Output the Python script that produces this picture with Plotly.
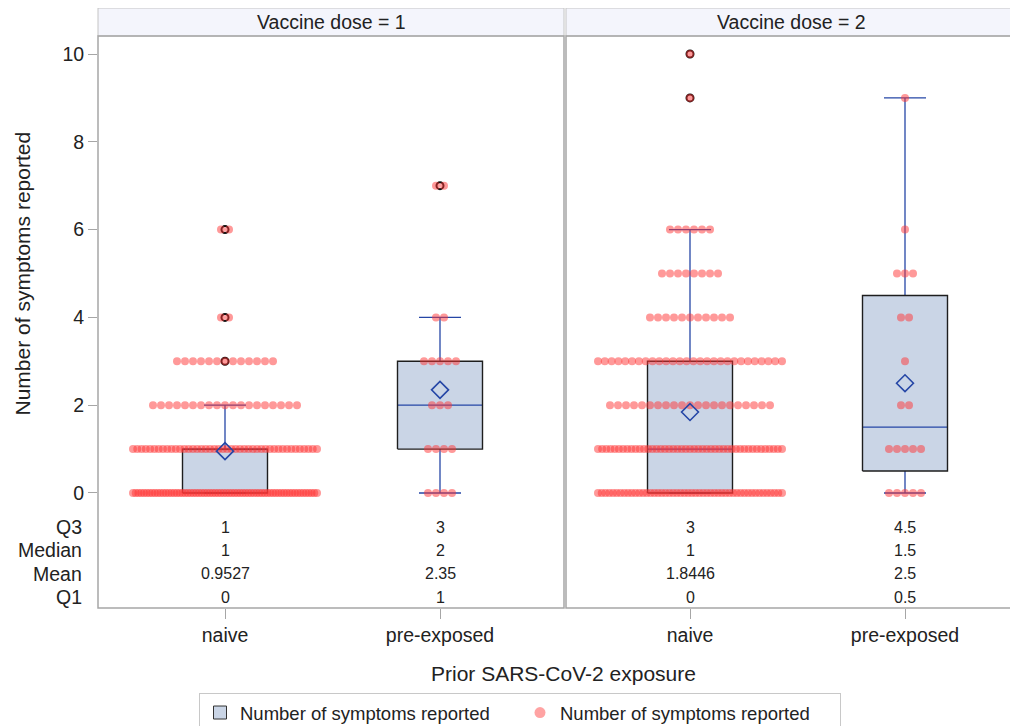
import plotly.graph_objects as go

# ---------------- data ----------------
categories = ["naive", "pre-exposed"]
dose_labels = ["Vaccine dose = 1", "Vaccine dose = 2"]
symptom_values = [0, 1, 2, 3, 4, 5, 6, 7, 8, 9, 10]

# number of participants reporting each symptom count (dot rows)
counts_d1_naive = [68, 44, 19, 13, 2, 0, 2, 0, 0, 0, 0]
counts_d1_pre = [4, 4, 3, 5, 2, 0, 0, 2, 0, 0, 0]
counts_d2_naive = [50, 45, 21, 28, 11, 8, 6, 0, 0, 1, 1]
counts_d2_pre = [5, 5, 2, 1, 2, 3, 1, 0, 0, 1, 0]

# box statistics in order: d1 naive, d1 pre-exposed, d2 naive, d2 pre-exposed
q3_vals = [1, 3, 3, 4.5]
median_vals = [1, 2, 1, 1.5]
mean_vals = [0.9527, 2.35, 1.8446, 2.5]
q1_vals = [0, 1, 0, 0.5]
whisker_low = [0, 0, 0, 0]
whisker_high = [2, 4, 6, 9]

stat_row_labels = ["Q3", "Median", "Mean", "Q1"]
y_ticks = [0, 2, 4, 6, 8, 10]

# ---------------- styling / layout constants ----------------
# (page body has an 8px margin, so the figure is 8px smaller each way)
W, H = 1010, 718
ML, MR, MT, MB = 90, 2, 28, 118
PLOT_H = H - MT - MB
PX_PER_UNIT = 215.0
BOX_HW = 42.5 / PX_PER_UNIT
CAP_HW = 21.0 / PX_PER_UNIT
DOT_SPACING_PX = 8.0
DOT_MAX_SPAN_PX = 184.0
Y_RANGE = [-2.62, 10.41]
STAT_Y = [-0.775, -1.30, -1.845, -2.37]

BOX_FILL = "#CAD5E6"
BOX_LINE = "#1E1E1E"
BLUE = "#2546A6"
DOT = "rgba(255,51,51,0.5)"
FRAME = "#A6A6A6"
TEXT = "#222222"
FONT = "Liberation Sans, Arial, sans-serif"

group_counts = [counts_d1_naive, counts_d1_pre, counts_d2_naive, counts_d2_pre]
group_panel = [0, 0, 1, 1]
group_cat = [0, 1, 0, 1]


def offsets(n):
    if n <= 1:
        return [0.0] * n
    span = min((n - 1) * DOT_SPACING_PX, DOT_MAX_SPAN_PX)
    step = span / (n - 1)
    return [(i - (n - 1) / 2.0) * step / PX_PER_UNIT for i in range(n)]


fig = go.Figure()
common = dict(yaxis="y", showlegend=False, hoverinfo="skip")

for g in range(4):
    xa = "x" if group_panel[g] == 0 else "x2"
    c = group_cat[g]
    q1, q3, med, mn = q1_vals[g], q3_vals[g], median_vals[g], mean_vals[g]
    lo, hi = whisker_low[g], whisker_high[g]

    # box fill
    fig.add_trace(go.Scatter(
        x=[c - BOX_HW, c + BOX_HW, c + BOX_HW, c - BOX_HW, c - BOX_HW],
        y=[q1, q1, q3, q3, q1], mode="lines", fill="toself",
        fillcolor=BOX_FILL, line=dict(width=0), xaxis=xa, **common))
    # whiskers + caps
    fig.add_trace(go.Scatter(
        x=[c, c, None, c, c, None, c - CAP_HW, c + CAP_HW, None, c - CAP_HW, c + CAP_HW],
        y=[q3, hi, None, q1, lo, None, hi, hi, None, lo, lo],
        mode="lines", line=dict(color=BLUE, width=1.3), xaxis=xa, **common))
    # median
    fig.add_trace(go.Scatter(
        x=[c - BOX_HW, c + BOX_HW], y=[med, med], mode="lines",
        line=dict(color=BLUE, width=1.3), xaxis=xa, **common))
    # box outline
    fig.add_trace(go.Scatter(
        x=[c - BOX_HW, c + BOX_HW, c + BOX_HW, c - BOX_HW, c - BOX_HW],
        y=[q1, q1, q3, q3, q1], mode="lines",
        line=dict(color=BOX_LINE, width=1.4), xaxis=xa, **common))
    # outliers
    ox, oy = [], []
    for v, n in zip(symptom_values, group_counts[g]):
        if n > 0 and (v > hi or v < lo):
            ox.append(c)
            oy.append(v)
    if ox:
        fig.add_trace(go.Scatter(
            x=ox, y=oy, mode="markers",
            marker=dict(symbol="circle-open", size=7, color="#111111", line=dict(width=2)),
            xaxis=xa, **common))
    # jittered dots
    px, py = [], []
    for v, n in zip(symptom_values, group_counts[g]):
        for o in offsets(n):
            px.append(c + o)
            py.append(v)
    fig.add_trace(go.Scatter(
        x=px, y=py, mode="markers",
        marker=dict(symbol="circle", size=8, color=DOT, line=dict(width=0)),
        xaxis=xa, **common))
    # mean diamond
    fig.add_trace(go.Scatter(
        x=[c], y=[mn], mode="markers",
        marker=dict(symbol="diamond-open", size=13, color=BLUE, line=dict(width=1.6)),
        xaxis=xa, **common))

# legend entries
fig.add_trace(go.Scatter(
    x=[None], y=[None], mode="markers", name="Number of symptoms reported",
    marker=dict(symbol="square", size=13, color=BOX_FILL, line=dict(color="#333333", width=1)),
    showlegend=True))
fig.add_trace(go.Scatter(
    x=[None], y=[None], mode="markers", name="Number of symptoms reported",
    marker=dict(symbol="circle", size=11, color="rgba(255,51,51,0.45)"),
    showlegend=True))

plot_w = W - ML - MR
dom1 = [0, 466.0 / plot_w]
dom2 = [468.0 / plot_w, 1]
range1 = [-127.0 / PX_PER_UNIT, (466.0 - 127.0) / PX_PER_UNIT]
range2 = [-124.0 / PX_PER_UNIT, (plot_w - 468.0 - 124.0) / PX_PER_UNIT]

xcommon = dict(tickmode="array", tickvals=[0, 1], ticktext=categories,
               showgrid=False, zeroline=False, showline=False,
               ticks="outside", ticklen=10, tickcolor=FRAME,
               tickfont=dict(size=19.5, color=TEXT, family=FONT), fixedrange=True)

annotations = []
header_h = 28.0 / PLOT_H
shapes = []
for i, xd in enumerate(["x domain", "x2 domain"]):
    shapes.append(dict(type="rect", xref=xd, yref="y domain", x0=0, x1=1, y0=0, y1=1,
                       line=dict(color=FRAME, width=1.5), layer="above"))
    shapes.append(dict(type="rect", xref=xd, yref="y domain", x0=0, x1=1, y0=1, y1=1 + header_h,
                       fillcolor="#F4F5FC", line=dict(color="#C4C4C4", width=1), layer="below"))
    annotations.append(dict(xref=xd, yref="y domain", x=0.5, y=1 + header_h / 2,
                            text=dose_labels[i], showarrow=False, xanchor="center", yanchor="middle",
                            font=dict(size=19.5, color=TEXT, family=FONT)))

# statistics table text
for g in range(4):
    xa = "x" if group_panel[g] == 0 else "x2"
    vals = [q3_vals[g], median_vals[g], mean_vals[g], q1_vals[g]]
    for r, v in enumerate(vals):
        annotations.append(dict(xref=xa, yref="y", x=group_cat[g], y=STAT_Y[r],
                                text=f"{v:g}", showarrow=False, xanchor="center", yanchor="middle",
                                font=dict(size=16, color=TEXT, family=FONT)))
for r, lab in enumerate(stat_row_labels):
    annotations.append(dict(xref="paper", yref="y", x=0, y=STAT_Y[r], xshift=-14,
                            text=lab, showarrow=False, xanchor="right", yanchor="middle",
                            font=dict(size=19.5, color=TEXT, family=FONT)))

# axis titles
annotations.append(dict(xref="paper", yref="y", x=(14.0 - ML) / plot_w, y=5,
                        text="Number of symptoms reported", textangle=-90, showarrow=False,
                        xanchor="center", yanchor="middle",
                        font=dict(size=21, color=TEXT, family=FONT)))
annotations.append(dict(xref="paper", yref="paper", x=(555.5 - ML) / plot_w, y=0, yshift=-65,
                        text="Prior SARS-CoV-2 exposure", showarrow=False,
                        xanchor="center", yanchor="middle",
                        font=dict(size=21, color=TEXT, family=FONT)))

fig.update_layout(
    width=W, height=H,
    margin=dict(l=ML, r=MR, t=MT, b=MB, autoexpand=False),
    paper_bgcolor="white", plot_bgcolor="white",
    font=dict(family=FONT, color=TEXT),
    xaxis=dict(domain=dom1, range=range1, anchor="y", **xcommon),
    xaxis2=dict(domain=dom2, range=range2, anchor="y", **xcommon),
    yaxis=dict(range=Y_RANGE, tickmode="array", tickvals=y_ticks, showgrid=False,
               zeroline=False, showline=False, ticks="outside", ticklen=9, tickcolor=FRAME,
               tickfont=dict(size=19.5, color=TEXT, family=FONT), fixedrange=True),
    shapes=shapes, annotations=annotations,
    showlegend=True,
    legend=dict(orientation="h", xref="container", yref="container",
                x=512.0 / W, xanchor="center", y=1 - 685.0 / H, yanchor="top",
                bordercolor="#C8C8C8", borderwidth=1, bgcolor="white",
                font=dict(size=18.5, color=TEXT, family=FONT),
                entrywidth=275, entrywidthmode="pixels",
                itemclick=False, itemdoubleclick=False),
)

fig.write_html("out.html")
